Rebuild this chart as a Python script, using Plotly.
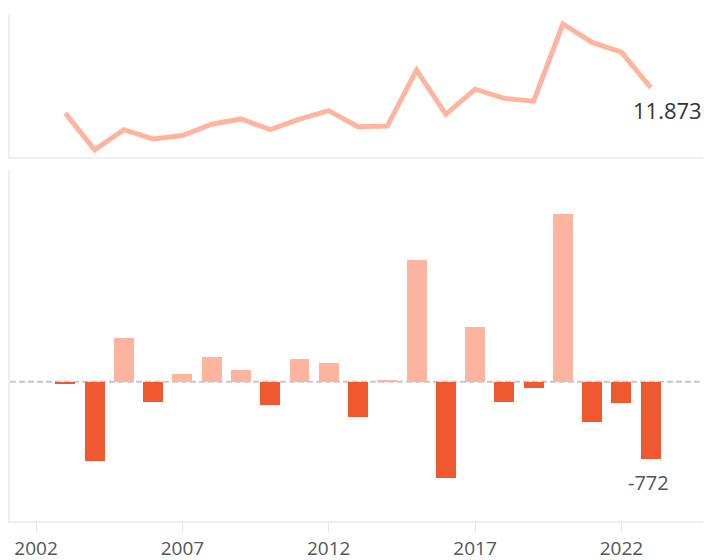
import plotly.graph_objects as go

years = list(range(2003, 2024))
level = [11320, 10525, 10960, 10760, 10835, 11080, 11195, 10965, 11190, 11375,
         11025, 11040, 12255, 11295, 11840, 11640, 11580, 13255, 12855, 12645, 11873]
change = [-25, -795, 435, -200, 75, 245, 115, -230, 225, 185,
          -350, 15, 1215, -960, 545, -200, -60, 1675, -400, -210, -772]
tick_years = [2002, 2007, 2012, 2017, 2022]

POS = "#fdb59f"
NEG = "#f0582f"
LINE = "#fdb59f"
BORDER = "#efefef"

fig = go.Figure()
fig.add_trace(go.Scatter(x=years, y=level, mode="lines",
                         line=dict(color=LINE, width=5),
                         xaxis="x", yaxis="y", hoverinfo="skip"))
fig.add_trace(go.Bar(x=years, y=change, width=0.68,
                     marker=dict(color=[POS if v > 0 else NEG for v in change], line=dict(width=0)),
                     xaxis="x2", yaxis="y2", hoverinfo="skip"))

xr = [2001.11, 2025.06]
fig.update_layout(
    width=703, height=552,
    margin=dict(l=2, r=0, t=6, b=39),
    paper_bgcolor="white", plot_bgcolor="white",
    showlegend=False,
    font=dict(family="Open Sans, Lato, sans-serif", color="#555555"),
    xaxis=dict(domain=[0, 1], range=xr, anchor="y", showticklabels=False, ticks="",
               showgrid=False, zeroline=False, showline=True, linecolor=BORDER, linewidth=2),
    yaxis=dict(domain=[0.718, 1], range=[10369, 13472], showticklabels=False, ticks="",
               showgrid=False, zeroline=False, showline=True, linecolor=BORDER, linewidth=2),
    xaxis2=dict(domain=[0, 1], range=xr, anchor="y2", tickvals=tick_years,
                ticktext=[str(y) for y in tick_years], ticks="outside", ticklen=9,
                tickcolor="#e6e6e6", tickwidth=1, tickfont=dict(size=19, color="#555555"),
                showgrid=False, zeroline=False, showline=True, linecolor=BORDER, linewidth=2),
    yaxis2=dict(domain=[0, 0.692], range=[-1393, 2117], showticklabels=False, ticks="",
                showgrid=False, zeroline=False, showline=True, linecolor=BORDER, linewidth=2),
    bargap=0,
)

fig.add_shape(type="line", xref="x2 domain", yref="y2", x0=0, x1=1, y0=0, y1=0,
              line=dict(color="#c8c8c8", width=2, dash="6px,3px"), layer="below")

fig.add_annotation(x=years[-1], y=level[-1], xref="x", yref="y",
                   text=f"{level[-1]/1000:.3f}", showarrow=False,
                   xshift=17, yshift=-22, font=dict(size=22, color="#333333"))
fig.add_annotation(x=years[-1], y=change[-1], xref="x2", yref="y2",
                   text=str(change[-1]), showarrow=False,
                   xshift=-2, yshift=-24, font=dict(size=20, color="#555555"))

fig.write_html("out.html")
